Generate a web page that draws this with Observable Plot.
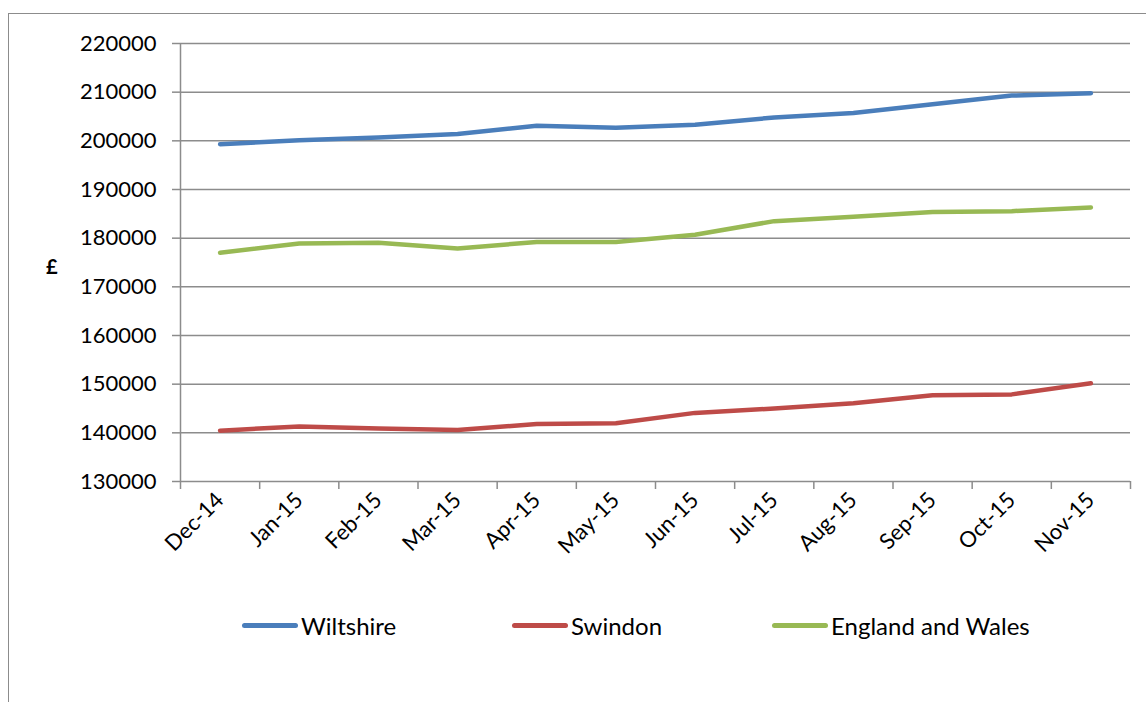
<!DOCTYPE html>
<html>
<head>
<meta charset="utf-8">
<script src="https://cdn.jsdelivr.net/npm/d3@7"></script>
<script src="https://cdn.jsdelivr.net/npm/@observablehq/plot@0.6"></script>
<style>
  html, body { margin: 0; padding: 0; background: #fff; }
  #chart { position: relative; width: 1146px; height: 702px; overflow: hidden; font-family: Lato, "Open Sans", sans-serif; }
  #frame { position: absolute; left: 8px; top: 13px; width: 1300px; height: 900px;
           border-left: 1.5px solid #8c8c8c; border-top: 1.5px solid #8c8c8c; }
  #plot { position: absolute; left: 0; top: 0; }
  #unit { position: absolute; left: 46px; top: 254px; font-size: 20px; font-weight: bold; color: #000; }
  .legend-item { position: absolute; top: 610px; display: flex; align-items: center; font-size: 24px; color: #000; height: 30px; }
  .swatch { width: 56px; height: 5px; border-radius: 3px; margin-right: 3px; }
</style>
</head>
<body>
<div id="chart">
  <div id="frame"></div>
  <div id="plot"></div>
  <div id="unit">£</div>
</div>
<script>
// Monthly average house prices (£)
const months = ["Dec-14", "Jan-15", "Feb-15", "Mar-15", "Apr-15", "May-15",
                "Jun-15", "Jul-15", "Aug-15", "Sep-15", "Oct-15", "Nov-15"];
const wiltshire = [199300, 200100, 200700, 201400, 203100, 202700,
                   203300, 204800, 205700, 207500, 209300, 209800];
const swindon = [140450, 141300, 140900, 140600, 141800, 141950,
                 144100, 145000, 146100, 147700, 147900, 150200];
const englandWales = [177000, 178900, 179050, 177900, 179200, 179200,
                      180700, 183500, 184400, 185400, 185550, 186300];
const seriesNames = ["Wiltshire", "Swindon", "England and Wales"];
const seriesColors = ["#4a7ebb", "#be4b48", "#98b954"];
const yTicks = d3.range(130000, 220001, 10000);

const seriesValues = [wiltshire, swindon, englandWales];
const rows = seriesNames.flatMap((name, s) =>
  seriesValues[s].map((v, i) => ({series: name, pos: i + 0.5, value: v})));

const gridColor = "#8c8c8c";

const chart = Plot.plot({
  width: 1146,
  height: 560,
  marginTop: 43,
  marginRight: 16,
  marginBottom: 79,
  marginLeft: 180,
  style: {fontFamily: "Lato, 'Open Sans', sans-serif", fontSize: "22px", color: "#000", background: "transparent", overflow: "visible"},
  x: {domain: [0, months.length], label: null},
  y: {domain: [130000, 220000], label: null},
  color: {domain: seriesNames, range: seriesColors},
  marks: [
    Plot.gridY({ticks: yTicks, stroke: gridColor, strokeOpacity: 1, strokeWidth: 1.5}),
    Plot.ruleX([0], {stroke: gridColor, strokeWidth: 1.5}),
    Plot.axisY({ticks: yTicks, tickSize: 8, tickPadding: 16, stroke: gridColor, strokeWidth: 1.5,
                tickFormat: d => String(d), label: null}),
    // tick marks sit on the boundaries between months
    Plot.axisX({ticks: d3.range(0, months.length + 1), tickSize: 8, stroke: gridColor, strokeWidth: 1.5,
                tickFormat: () => "", label: null}),
    // month labels sit under each month's centre
    Plot.axisX({ticks: months.map((_, i) => i + 0.5), tickSize: 0, tickPadding: 15, tickRotate: -45,
                tickFormat: d => months[Math.floor(d)], label: null}),
    Plot.line(rows, {x: "pos", y: "value", z: "series", stroke: "series",
                     strokeWidth: 4.5, strokeLinecap: "round", strokeLinejoin: "round"})
  ]
});
document.getElementById("plot").appendChild(chart);

// Legend below the plot
const legendLeft = [242, 512, 772];
const host = document.getElementById("chart");
seriesNames.forEach((name, i) => {
  const item = document.createElement("div");
  item.className = "legend-item";
  item.style.left = legendLeft[i] + "px";
  const sw = document.createElement("span");
  sw.className = "swatch";
  sw.style.background = seriesColors[i];
  const label = document.createElement("span");
  label.textContent = name;
  item.appendChild(sw);
  item.appendChild(label);
  host.appendChild(item);
});
</script>
</body>
</html>
